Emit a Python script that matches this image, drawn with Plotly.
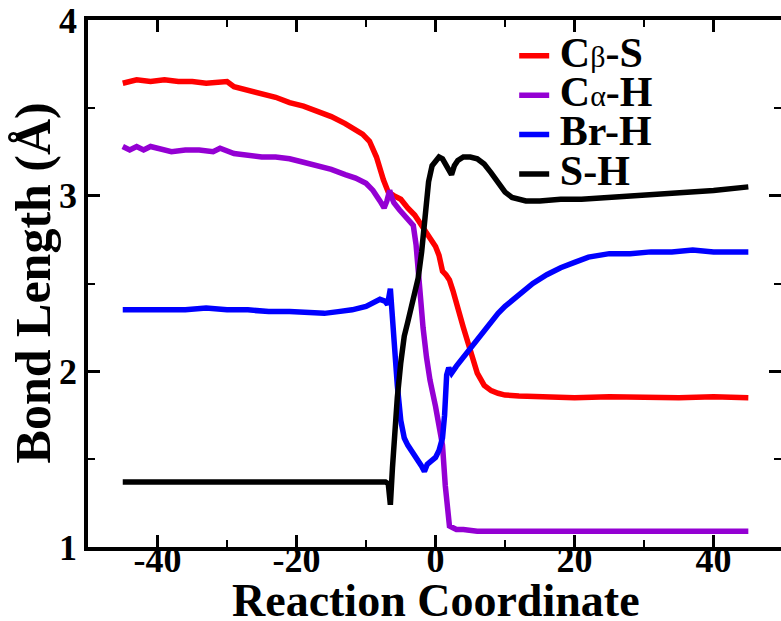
import plotly.graph_objects as go

# ---- data ----
red_x = [-45, -43, -41, -39, -37, -35, -33, -31, -30, -29, -27, -25, -23, -21, -19, -17, -15, -13,
         -11.5, -10.5, -9.5, -8.5, -7.5, -6.8, -6, -5, -4, -3, -2, -1, 0, 0.5, 1, 1.5, 2, 2.5, 3,
         4, 5, 6, 7, 8, 9, 10, 12, 15, 20, 25, 30, 35, 40, 45]
red_y = [3.64, 3.66, 3.65, 3.66, 3.65, 3.65, 3.64, 3.65, 3.65, 3.62, 3.60, 3.58, 3.56, 3.53, 3.51,
         3.48, 3.45, 3.41, 3.37, 3.35, 3.31, 3.22, 3.09, 3.02, 3.00, 2.98, 2.93, 2.89, 2.83, 2.77,
         2.71, 2.66, 2.57, 2.55, 2.52, 2.46, 2.38, 2.25, 2.12, 1.99, 1.92, 1.89, 1.875, 1.865,
         1.86, 1.855, 1.85, 1.855, 1.85, 1.85, 1.855, 1.85]

purple_x = [-45, -44, -43, -42, -41, -40, -38, -36, -34, -32, -31, -29, -27, -25, -23, -21, -19,
            -17, -15, -13, -11.5, -10, -9, -8, -7.4, -7, -6.6, -6.3, -6, -5.2, -4.5, -3.8, -3.2,
            -2.8, -2.3, -1.8, -1.3, -0.8, 0, 0.5, 1, 1.4, 1.7, 2, 2.5, 3, 4, 6, 8, 10, 15, 20,
            25, 30, 35, 40, 45]
purple_y = [3.28, 3.26, 3.28, 3.26, 3.28, 3.27, 3.25, 3.26, 3.26, 3.25, 3.27, 3.24, 3.23, 3.22,
            3.22, 3.21, 3.19, 3.17, 3.15, 3.12, 3.10, 3.07, 3.03, 2.97, 2.93, 2.97, 3.03, 2.99,
            2.96, 2.92, 2.89, 2.86, 2.83, 2.72, 2.46, 2.25, 2.08, 1.95, 1.80, 1.70, 1.58, 1.35,
            1.18, 1.12, 1.11, 1.10, 1.10, 1.09, 1.09, 1.09, 1.09, 1.09, 1.09, 1.09, 1.09, 1.09,
            1.09]

blue_x = [-45, -42, -39, -36, -33, -30, -27, -24, -21, -18, -16, -14, -12, -10, -9, -8, -7.3,
          -6.9, -6.5, -6.2, -5.9, -5.5, -5, -4.5, -4, -3.5, -3, -2.5, -2, -1.6, -1.2, -0.6, 0,
          0.5, 1, 1.3, 1.6, 1.9, 2.3, 3, 4, 5, 6, 7, 8, 9, 10, 12, 14, 16, 18, 20, 22, 25, 28,
          31, 34, 37, 40, 43, 45]
blue_y = [2.35, 2.35, 2.35, 2.35, 2.36, 2.35, 2.35, 2.34, 2.34, 2.33, 2.33, 2.34, 2.35, 2.37,
          2.39, 2.41, 2.40, 2.38, 2.47, 2.30, 2.10, 1.92, 1.72, 1.62, 1.58, 1.55, 1.52, 1.50,
          1.46, 1.43, 1.47, 1.49, 1.51, 1.55, 1.62, 1.75, 1.98, 2.02, 1.99, 2.03, 2.08, 2.13,
          2.19, 2.24, 2.29, 2.33, 2.37, 2.44, 2.50, 2.55, 2.59, 2.62, 2.65, 2.67, 2.67, 2.68,
          2.68, 2.69, 2.68, 2.68, 2.68]

black_x = [-45, -40, -35, -30, -25, -20, -15, -10, -8, -7.2, -6.8, -6.5, -6.2, -5.9, -5.5, -5,
           -4.5, -4, -3.5, -3, -2.5, -2, -1.5, -1, -0.5, 0, 0.5, 1, 1.5, 2, 2.3, 2.7, 3.2, 4, 5,
           6, 7, 8, 9, 10, 11, 12, 13, 15, 18, 21, 25, 30, 35, 40, 45]
black_y = [1.37, 1.37, 1.37, 1.37, 1.37, 1.37, 1.37, 1.37, 1.37, 1.37, 1.36, 1.24, 1.45, 1.65,
           1.85, 2.05, 2.20, 2.28, 2.36, 2.43, 2.53, 2.68, 2.88, 3.08, 3.17, 3.20, 3.22, 3.21,
           3.18, 3.14, 3.12, 3.17, 3.20, 3.22, 3.22, 3.21, 3.18, 3.13, 3.07, 3.02, 2.99, 2.98,
           2.97, 2.97, 2.98, 2.98, 2.99, 3.00, 3.02, 3.03, 3.05]

series_names = ["C<span style='font-size:30px;font-weight:normal'>β</span>-S",
                "C<span style='font-size:30px;font-weight:normal'>α</span>-H",
                "Br-H", "S-H"]
series_colors = ["#ff0000", "#9400d3", "#0000ff", "#000000"]

x_ticks = [-40, -20, 0, 20, 40]
y_ticks = [1, 2, 3, 4]
x_title = "Reaction Coordinate"
y_title = "Bond Length (Å)"

FONT = "Liberation Serif, Times New Roman, serif"

fig = go.Figure()
data = [(red_x, red_y), (purple_x, purple_y), (blue_x, blue_y), (black_x, black_y)]
for i, ((xs, ys), name, col) in enumerate(zip(data, series_names, series_colors)):
    fig.add_trace(go.Scatter(
        x=xs, y=ys, mode="lines",
        name=f"\u2009<span style='font-size:42px'>{name}</span>",
        line=dict(color=col, width=5.5),
        yaxis="y2" if i == 3 else "y",
    ))

tickfont = dict(family=FONT, size=36, color="black", weight="bold")

fig.update_layout(
    width=781, height=621,
    margin=dict(l=88, r=0, t=20, b=74, pad=0),
    paper_bgcolor="white", plot_bgcolor="white",
    showlegend=True,
    legend=dict(
        x=0.615, y=0.979, xanchor="left", yanchor="top",
        bgcolor="rgba(0,0,0,0)", borderwidth=0,
        font=dict(family=FONT, size=28, color="black", weight="bold"),
        itemwidth=30,
    ),
    xaxis=dict(
        range=[-50, 49.7], tickvals=x_ticks, ticktext=[str(v) for v in x_ticks],
        showgrid=False, zeroline=False,
        showline=True, linecolor="black", linewidth=3.5, mirror="ticks",
        ticks="inside", ticklen=12, tickwidth=2.5, tickcolor="black",
        minor=dict(ticks="inside", ticklen=7, tickwidth=2, tickcolor="black", dtick=10,
                   tick0=0, showgrid=False),
        tickfont=tickfont, ticklabelstandoff=-22,
        automargin=False,
    ),
    yaxis=dict(
        range=[1, 4], tickvals=y_ticks, ticktext=[str(v) for v in y_ticks],
        showgrid=False, zeroline=False,
        showline=True, linecolor="black", linewidth=3.5, mirror=False,
        ticks="inside", ticklen=12, tickwidth=2.5, tickcolor="black",
        minor=dict(ticks="inside", ticklen=7, tickwidth=2, tickcolor="black", dtick=0.5,
                   tick0=0, showgrid=False),
        tickfont=tickfont,
        automargin=False,
    ),
    yaxis2=dict(
        range=[1, 4], overlaying="y", side="right", tickvals=y_ticks,
        showgrid=False, zeroline=False, showline=False, showticklabels=False,
        ticks="inside", ticklen=12, tickwidth=2.5, tickcolor="black",
        minor=dict(ticks="inside", ticklen=7, tickwidth=2, tickcolor="black", dtick=0.5,
                   tick0=0, showgrid=False),
        automargin=False,
    ),
    annotations=[
        dict(text=x_title, xref="paper", yref="paper", x=0.502, y=-0.102,
             xanchor="center", yanchor="middle", showarrow=False, borderpad=0,
             font=dict(family=FONT, size=46, color="black", weight="bold")),
        dict(text=y_title, xref="paper", yref="paper", x=-0.0794, y=0.502,
             xanchor="center", yanchor="middle", showarrow=False, textangle=-90,
             font=dict(family=FONT, size=50, color="black", weight="bold")),
    ],
)

fig.write_html("out.html")
